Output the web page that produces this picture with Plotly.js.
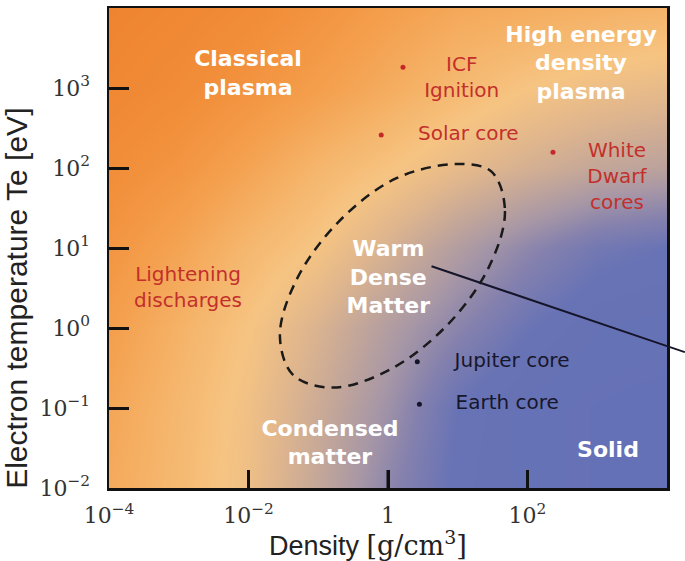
<!DOCTYPE html>
<html>
<head>
<meta charset="utf-8">
<script src="https://cdn.plot.ly/plotly-3.0.1.min.js"></script>
<style>html,body{margin:0;padding:0;background:#fff;}#chart{width:685px;height:561px;}</style>
</head>
<body>
<div id="chart"></div>
<script>
// ---- axis ticks ----
const densityTickVals = [1e-4, 1e-2, 1, 1e2, 1e4];
const densityTickText = ['10<sup>\u22124</sup>', '10<sup>\u22122</sup>', '1', '10<sup>2</sup>', '10<sup>4</sup>'];
const densityInnerTicks = [1e-2, 1, 1e2];
const tempTickVals = [1e-2, 1e-1, 1, 1e1, 1e2, 1e3, 1e4];
const tempTickText = ['10<sup>\u22122</sup>', '10<sup>\u22121</sup>', '10<sup>0</sup>', '10<sup>1</sup>', '10<sup>2</sup>', '10<sup>3</sup>', '10<sup>4</sup>'];

// ---- background shading (0 = solid blue, 1 = deep orange) ----
const shadeDensity = [1e-4, 1e-3, 1e-2, 1e-1, 1, 1e1, 1e2, 1e3, 1e4];
const shadeTemp = [1e-2, 1e-1, 1, 1e1, 1e2, 1e3, 1e4];
const shadeLevels = [
  [0.78, 0.70, 0.60, 0.44, 0.27, 0.12, 0.05, 0.02, 0.00],
  [0.80, 0.71, 0.61, 0.47, 0.32, 0.14, 0.05, 0.02, 0.00],
  [0.84, 0.74, 0.64, 0.52, 0.38, 0.26, 0.15, 0.07, 0.05],
  [0.89, 0.81, 0.71, 0.63, 0.51, 0.38, 0.27, 0.18, 0.14],
  [0.94, 0.89, 0.81, 0.72, 0.65, 0.57, 0.50, 0.44, 0.41],
  [0.98, 0.95, 0.90, 0.84, 0.77, 0.70, 0.64, 0.60, 0.57],
  [1.00, 0.98, 0.95, 0.90, 0.84, 0.79, 0.77, 0.75, 0.73]
];

// ---- warm dense matter region outline ----
const wdmDensity = [30.5, 47.5, 27.5, 6.8, 1.05, 0.163, 0.0438, 0.0282, 0.049, 0.197, 1.3, 9.8, 30.5];
const wdmTemp    = [90.0, 29.0, 5.6, 1.05, 0.30, 0.180, 0.258, 0.80, 4.04, 21.4, 74.0, 112, 90.0];

// ---- example objects ----
const hotNames = ['ICF Ignition', 'Solar core', 'White Dwarf cores'];
const hotDensity = [1.64, 0.80, 232];
const hotTemp = [1815, 258, 157];
const coldNames = ['Jupiter core', 'Earth core'];
const coldDensity = [2.63, 2.82];
const coldTemp = [0.379, 0.111];

// ---- labels ----
const redLabels = ['ICF<br>Ignition', 'Solar core', 'White<br>Dwarf<br>cores', 'Lightening<br>discharges'];
const redLabelDensity = [11.4, 14.2, 1919, 0.00136];
const redLabelTemp = [1296, 258, 76, 3.07];
const darkLabels = ['Jupiter core', 'Earth core'];
const darkLabelDensity = [60, 51.3];
const darkLabelTemp = [0.379, 0.111];
const regionLabels = ['Classical<br>plasma', 'High energy<br>density<br>plasma', 'Warm<br>Dense<br>Matter', 'Condensed<br>matter', 'Solid'];
const regionLabelDensity = [0.00984, 585, 1.01, 0.147, 1426];
const regionLabelTemp = [1454, 1939, 4.06, 0.035, 0.0284];

const sans = 'DejaVu Sans, sans-serif';

const traces = [
  {
    type: 'heatmap', x: shadeDensity, y: shadeTemp, z: shadeLevels,
    zmin: 0, zmax: 1, zsmooth: 'best', showscale: false, hoverinfo: 'skip',
    colorscale: [
      [0.00, '#6571b6'], [0.14, '#6873b5'], [0.24, '#8380ae'], [0.34, '#a696a6'],
      [0.45, '#c6a898'], [0.55, '#e2b78c'], [0.64, '#f6c482'], [0.73, '#f5b46a'],
      [0.83, '#f4a04e'], [0.92, '#f2903c'], [1.00, '#ef8430']
    ]
  },
  {
    type: 'scatter', mode: 'lines', x: wdmDensity, y: wdmTemp, hoverinfo: 'skip',
    line: {shape: 'spline', smoothing: 1, color: '#1a1a1a', width: 2.5, dash: '10px,7px'}
  },
  {
    type: 'scatter', mode: 'markers', x: hotDensity, y: hotTemp, text: hotNames,
    marker: {size: 5, color: '#c4282a'}, cliponaxis: false
  },
  {
    type: 'scatter', mode: 'markers', x: coldDensity, y: coldTemp, text: coldNames,
    marker: {size: 5, color: '#15152a'}, cliponaxis: false
  },
  {
    type: 'scatter', mode: 'text', x: redLabelDensity, y: redLabelTemp, text: redLabels,
    textposition: 'middle center', cliponaxis: false, hoverinfo: 'skip',
    textfont: {family: sans, size: 20, color: '#c3302c'}
  },
  {
    type: 'scatter', mode: 'text', x: darkLabelDensity, y: darkLabelTemp, text: darkLabels,
    textposition: 'middle center', cliponaxis: false, hoverinfo: 'skip',
    textfont: {family: sans, size: 20, color: '#17172c'}
  },
  {
    type: 'scatter', mode: 'text', x: regionLabelDensity, y: regionLabelTemp, text: regionLabels,
    textposition: 'middle center', cliponaxis: false, hoverinfo: 'skip',
    textfont: {family: sans, size: 22, color: '#ffffff', weight: 'bold'}
  }
];

const axisCommon = {
  type: 'log', ticks: 'inside', tickwidth: 3, tickcolor: '#111',
  showline: true, mirror: true, linecolor: '#111', linewidth: 2.5,
  showgrid: false, zeroline: false, fixedrange: true, layer: 'above traces',
  tickfont: {family: 'DejaVu Serif, serif', size: 22, color: '#333'}
};

// inner tick marks along the density axis, drawn on top of the shading
const densityTickShapes = densityInnerTicks.map(v => ({
  type: 'line', xref: 'x', yref: 'paper', x0: v, x1: v, y0: 0, y1: 0.0375,
  line: {color: '#111', width: 3}, layer: 'above'
}));

const layout = {
  width: 685, height: 561,
  margin: {l: 109, r: 18, t: 8, b: 73, pad: 0},
  paper_bgcolor: '#ffffff', plot_bgcolor: '#ffffff',
  showlegend: false,
  xaxis: Object.assign({}, axisCommon, {
    range: [-4, 4], tickmode: 'array', tickvals: densityTickVals, ticktext: densityTickText,
    ticklen: 18, ticklabelstandoff: 6
  }),
  yaxis: Object.assign({}, axisCommon, {
    range: [-2, 4], tickmode: 'array', tickvals: tempTickVals, ticktext: tempTickText,
    ticklen: 20, ticklabelstandoff: 12
  }),
  shapes: densityTickShapes.concat([
    {type: 'line', xref: 'paper', yref: 'paper', x0: 0.578, y0: 0.462, x1: 1.032, y1: 0.283,
     line: {color: '#15152a', width: 2}, layer: 'above'}
  ]),
  annotations: [
    {text: 'Electron temperature Te [eV]', textangle: -90, xref: 'paper', yref: 'paper',
     x: -0.165, y: 0.396, xanchor: 'center', yanchor: 'middle', showarrow: false,
     font: {family: 'Liberation Sans, Arial, sans-serif', size: 30, color: '#222'}},
    {text: 'Density <span style="font-family:\'DejaVu Serif\', serif">[g/cm<sup>3</sup>]</span>',
     xref: 'paper', yref: 'paper', x: 0.464, y: -0.1146, xanchor: 'center', yanchor: 'middle',
     showarrow: false, font: {family: 'Liberation Sans, Arial, sans-serif', size: 27, color: '#222'}}
  ]
};

Plotly.newPlot('chart', traces, layout, {displayModeBar: false, staticPlot: true});
</script>
</body>
</html>
